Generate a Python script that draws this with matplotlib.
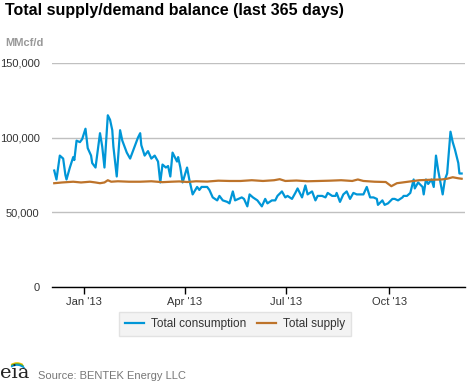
import pandas as pd
import matplotlib
matplotlib.use("Agg")
import matplotlib.pyplot as plt
from matplotlib.patches import Arc

# days relative to 1 Jan 2013, values in thousand MMcf/d
cons_day = [-27, -25, -22, -19, -17, -16, -13, -10, -9, -7, -4, -2, 1, 3, 6, 7, 10, 14, 16, 18,
            21, 23, 25, 26, 29, 32, 34, 38, 41, 42, 45, 48, 50, 51, 54, 57, 60, 63, 66, 68,
            70, 73, 75, 77, 79, 83, 84, 86, 88, 92, 94, 97, 101, 103, 105, 110, 112, 115, 119, 121,
            124, 128, 130, 133, 135, 138, 141, 143, 146, 148, 151, 155, 159, 162, 164, 168, 171, 173, 177, 180,
            182, 186, 189, 191, 195, 198, 200, 204, 207, 209, 213, 216, 218, 222, 225, 226, 229, 232, 235, 238,
            241, 244, 247, 250, 253, 256, 259, 262, 263, 267, 269, 272, 276, 278, 281, 285, 286, 289, 292, 295,
            296, 299, 303, 304, 306, 308, 311, 313, 315, 317, 319, 321, 323, 325, 328, 330, 332, 335, 336, 338]
cons_val = [78, 72, 88, 86, 75, 72, 80, 87, 85, 98, 97, 99, 106, 93, 88, 83, 80, 103, 94, 80,
            115, 112, 105, 94, 74, 105, 98, 90, 86, 88, 94, 100, 103, 95, 88, 91, 86, 88, 84, 70,
            82, 80, 81, 74, 90, 84, 87, 80, 70, 80, 72, 62, 67, 65, 67, 67, 65, 60, 58, 61,
            58, 57, 56, 64, 58, 59, 60, 59, 54, 62, 60, 58, 54, 59, 56, 58, 58, 61, 64, 60,
            61, 59, 63, 66, 60, 68, 62, 64, 58, 61, 61, 60, 63, 61, 61, 63, 57, 62, 64, 59,
            63, 62, 62, 62, 67, 60, 60, 59, 55, 58, 55, 56, 59, 59, 58, 60, 61, 61, 63, 72,
            66, 70, 67, 62, 72, 69, 72, 67, 88, 78, 70, 62, 72, 76, 104, 97, 92, 83, 76, 76]

supply_day = [-27, -20, -10, -3, 5, 10, 14, 18, 21, 24, 30, 40, 50, 60, 70, 78, 85, 92, 100, 110,
              120, 130, 140, 150, 160, 170, 175, 180, 190, 200, 210, 220, 230, 240, 245, 250, 260, 270, 275, 280,
              290, 300, 310, 320, 325, 330, 335, 338]
supply_val = [69.5, 70, 70.5, 70, 70.5, 70, 69.5, 70, 71.5, 70.5, 70.8, 70.5, 70.5, 70.8, 70.2, 70.5, 70.7, 70.3, 70.8, 70.6,
              71.2, 71, 71, 71.5, 71, 71.5, 72.2, 71, 71.3, 70.8, 71, 71.2, 71.5, 71, 72, 71, 70.5, 70.3, 67.5, 69.5,
              70.5, 71.5, 71.8, 72, 72.5, 73.5, 72.8, 72.5]

yticks = [0, 50000, 100000, 150000]
ytick_labels = ["0", "50,000", "100,000", "150,000"]
xticks = ["2013-01-01", "2013-04-01", "2013-07-01", "2013-10-01"]
xtick_labels = ["Jan '13", "Apr '13", "Jul '13", "Oct '13"]

base = pd.Timestamp("2013-01-01")
cons_dates = [base + pd.Timedelta(days=d) for d in cons_day]
supply_dates = [base + pd.Timedelta(days=d) for d in supply_day]

plt.rcParams["font.family"] = ["Liberation Sans", "DejaVu Sans"]

fig = plt.figure(figsize=(4.7, 3.83), dpi=100)
ax = fig.add_axes([52 / 470, 1 - 287 / 383, 413 / 470, 224 / 383])

ax.plot(cons_dates, [v * 1000 for v in cons_val], color="#0096d7", lw=1.6, label="Total consumption")
ax.plot(supply_dates, [v * 1000 for v in supply_val], color="#bd732a", lw=1.6, label="Total supply")

ax.set_ylim(0, 150000)
ax.set_xlim(pd.Timestamp("2012-12-03"), pd.Timestamp("2013-12-08"))
ax.set_yticks(yticks)
ax.set_yticklabels(ytick_labels)
ax.set_xticks([pd.Timestamp(t) for t in xticks])
ax.set_xticklabels(xtick_labels)

ax.grid(axis="y", color="#c0c0c0", lw=1)
ax.set_axisbelow(True)
for s in ["left", "right", "top"]:
    ax.spines[s].set_visible(False)
ax.spines["bottom"].set_color("black")
ax.spines["bottom"].set_linewidth(1)
ax.tick_params(axis="y", length=0, pad=9, labelsize=8, labelcolor="#333333")
ax.tick_params(axis="x", length=5, width=1, pad=2, labelsize=8, labelcolor="#333333")

fig.text(5 / 470, 1 - 3 / 383, "Total supply/demand balance (last 365 days)", fontsize=11.5,
         fontweight="bold", va="top", ha="left", color="black")
fig.text(5 / 470, 1 - 38 / 383, "MMcf/d", fontsize=8, fontweight="bold", va="top", ha="left", color="#999999")

leg = fig.legend(loc="center", bbox_to_anchor=(235 / 470, 1 - 324 / 383), ncol=2, fontsize=8.5,
                 frameon=True, fancybox=False, handlelength=1.6, columnspacing=0.9, handletextpad=0.6,
                 borderpad=0.5)
leg.get_frame().set_facecolor("#f0f0f0")
leg.get_frame().set_edgecolor("#dddddd")
for t in leg.get_texts():
    t.set_color("#333333")

# eia logo
fig.text(0 / 470, 1 - 382 / 383, "eia", fontsize=14, family="DejaVu Serif", color="#222222",
         va="bottom", ha="left")
lax = fig.add_axes([0, 0, 30 / 470, 25 / 383])
lax.set_xlim(0, 30)
lax.set_ylim(0, 25)
lax.axis("off")
lax.add_patch(Arc((17, 8), 22, 24, theta1=60, theta2=120, color="#f2c300", lw=1.2))
lax.add_patch(Arc((17, 7), 22, 24, theta1=55, theta2=120, color="#5aa832", lw=1.2))
lax.add_patch(Arc((17, 6), 22, 24, theta1=50, theta2=120, color="#0096d7", lw=1.2))

fig.text(38 / 470, 1 - 376 / 383, "Source: BENTEK Energy LLC", fontsize=8, color="#777777",
         va="center", ha="left")

fig.savefig("out.png", dpi=100)
